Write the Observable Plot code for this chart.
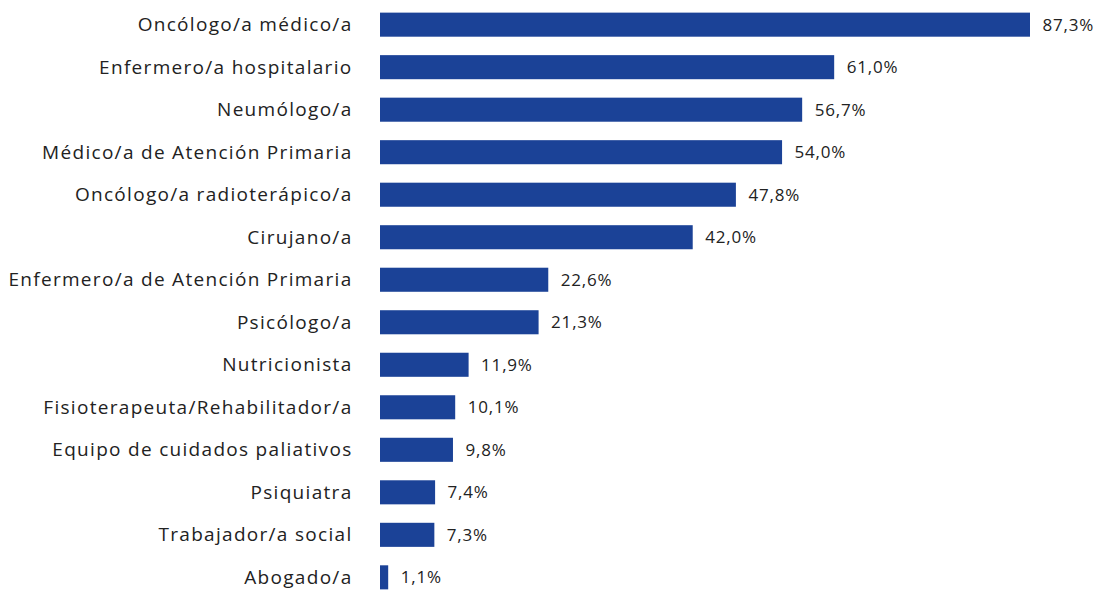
<!DOCTYPE html>
<html><head><meta charset="utf-8">
<script src="https://cdn.jsdelivr.net/npm/d3@7"></script>
<script src="https://cdn.jsdelivr.net/npm/@observablehq/plot@0.6"></script>
<style>
html,body{margin:0;padding:0;background:#fff;overflow:hidden;}
.ylab text{letter-spacing:1.3px;}
.vlab text{letter-spacing:0.8px;}
</style></head><body><div id="chart"></div>
<script>
const categories = ["Oncólogo/a médico/a","Enfermero/a hospitalario","Neumólogo/a","Médico/a de Atención Primaria","Oncólogo/a radioterápico/a","Cirujano/a","Enfermero/a de Atención Primaria","Psicólogo/a","Nutricionista","Fisioterapeuta/Rehabilitador/a","Equipo de cuidados paliativos","Psiquiatra","Trabajador/a social","Abogado/a"];
const values = [87.3,61.0,56.7,54.0,47.8,42.0,22.6,21.3,11.9,10.1,9.8,7.4,7.3,1.1];
const data = categories.map((c,i)=>({cat:c, value:values[i]}));
const fmt = v => v.toFixed(1).replace(".", ",") + "%";
const plot = Plot.plot({
  width: 1096, height: 600,
  marginLeft: 380, marginRight: 66, marginTop: 2, marginBottom: 0,
  style: {fontFamily: "'Open Sans', sans-serif", color: "#222", background: "#fff"},
  x: {domain: [0, 87.3], axis: null},
  y: {domain: categories, paddingInner: 0.434, paddingOuter: 0.25, round: false, label: null},
  marks: [
    Plot.barX(data, {x: "value", y: "cat", fill: "#1b4297"}),
    Plot.text(data, {x: "value", y: "cat", text: d => fmt(d.value), textAnchor: "start", dx: 12, fontSize: 17, fill: "#222", className: "vlab"}),
    Plot.axisY({tickSize: 0, tickPadding: 28, fontSize: 19, label: null, className: "ylab"})
  ]
});
document.getElementById("chart").append(plot);
</script></body></html>
